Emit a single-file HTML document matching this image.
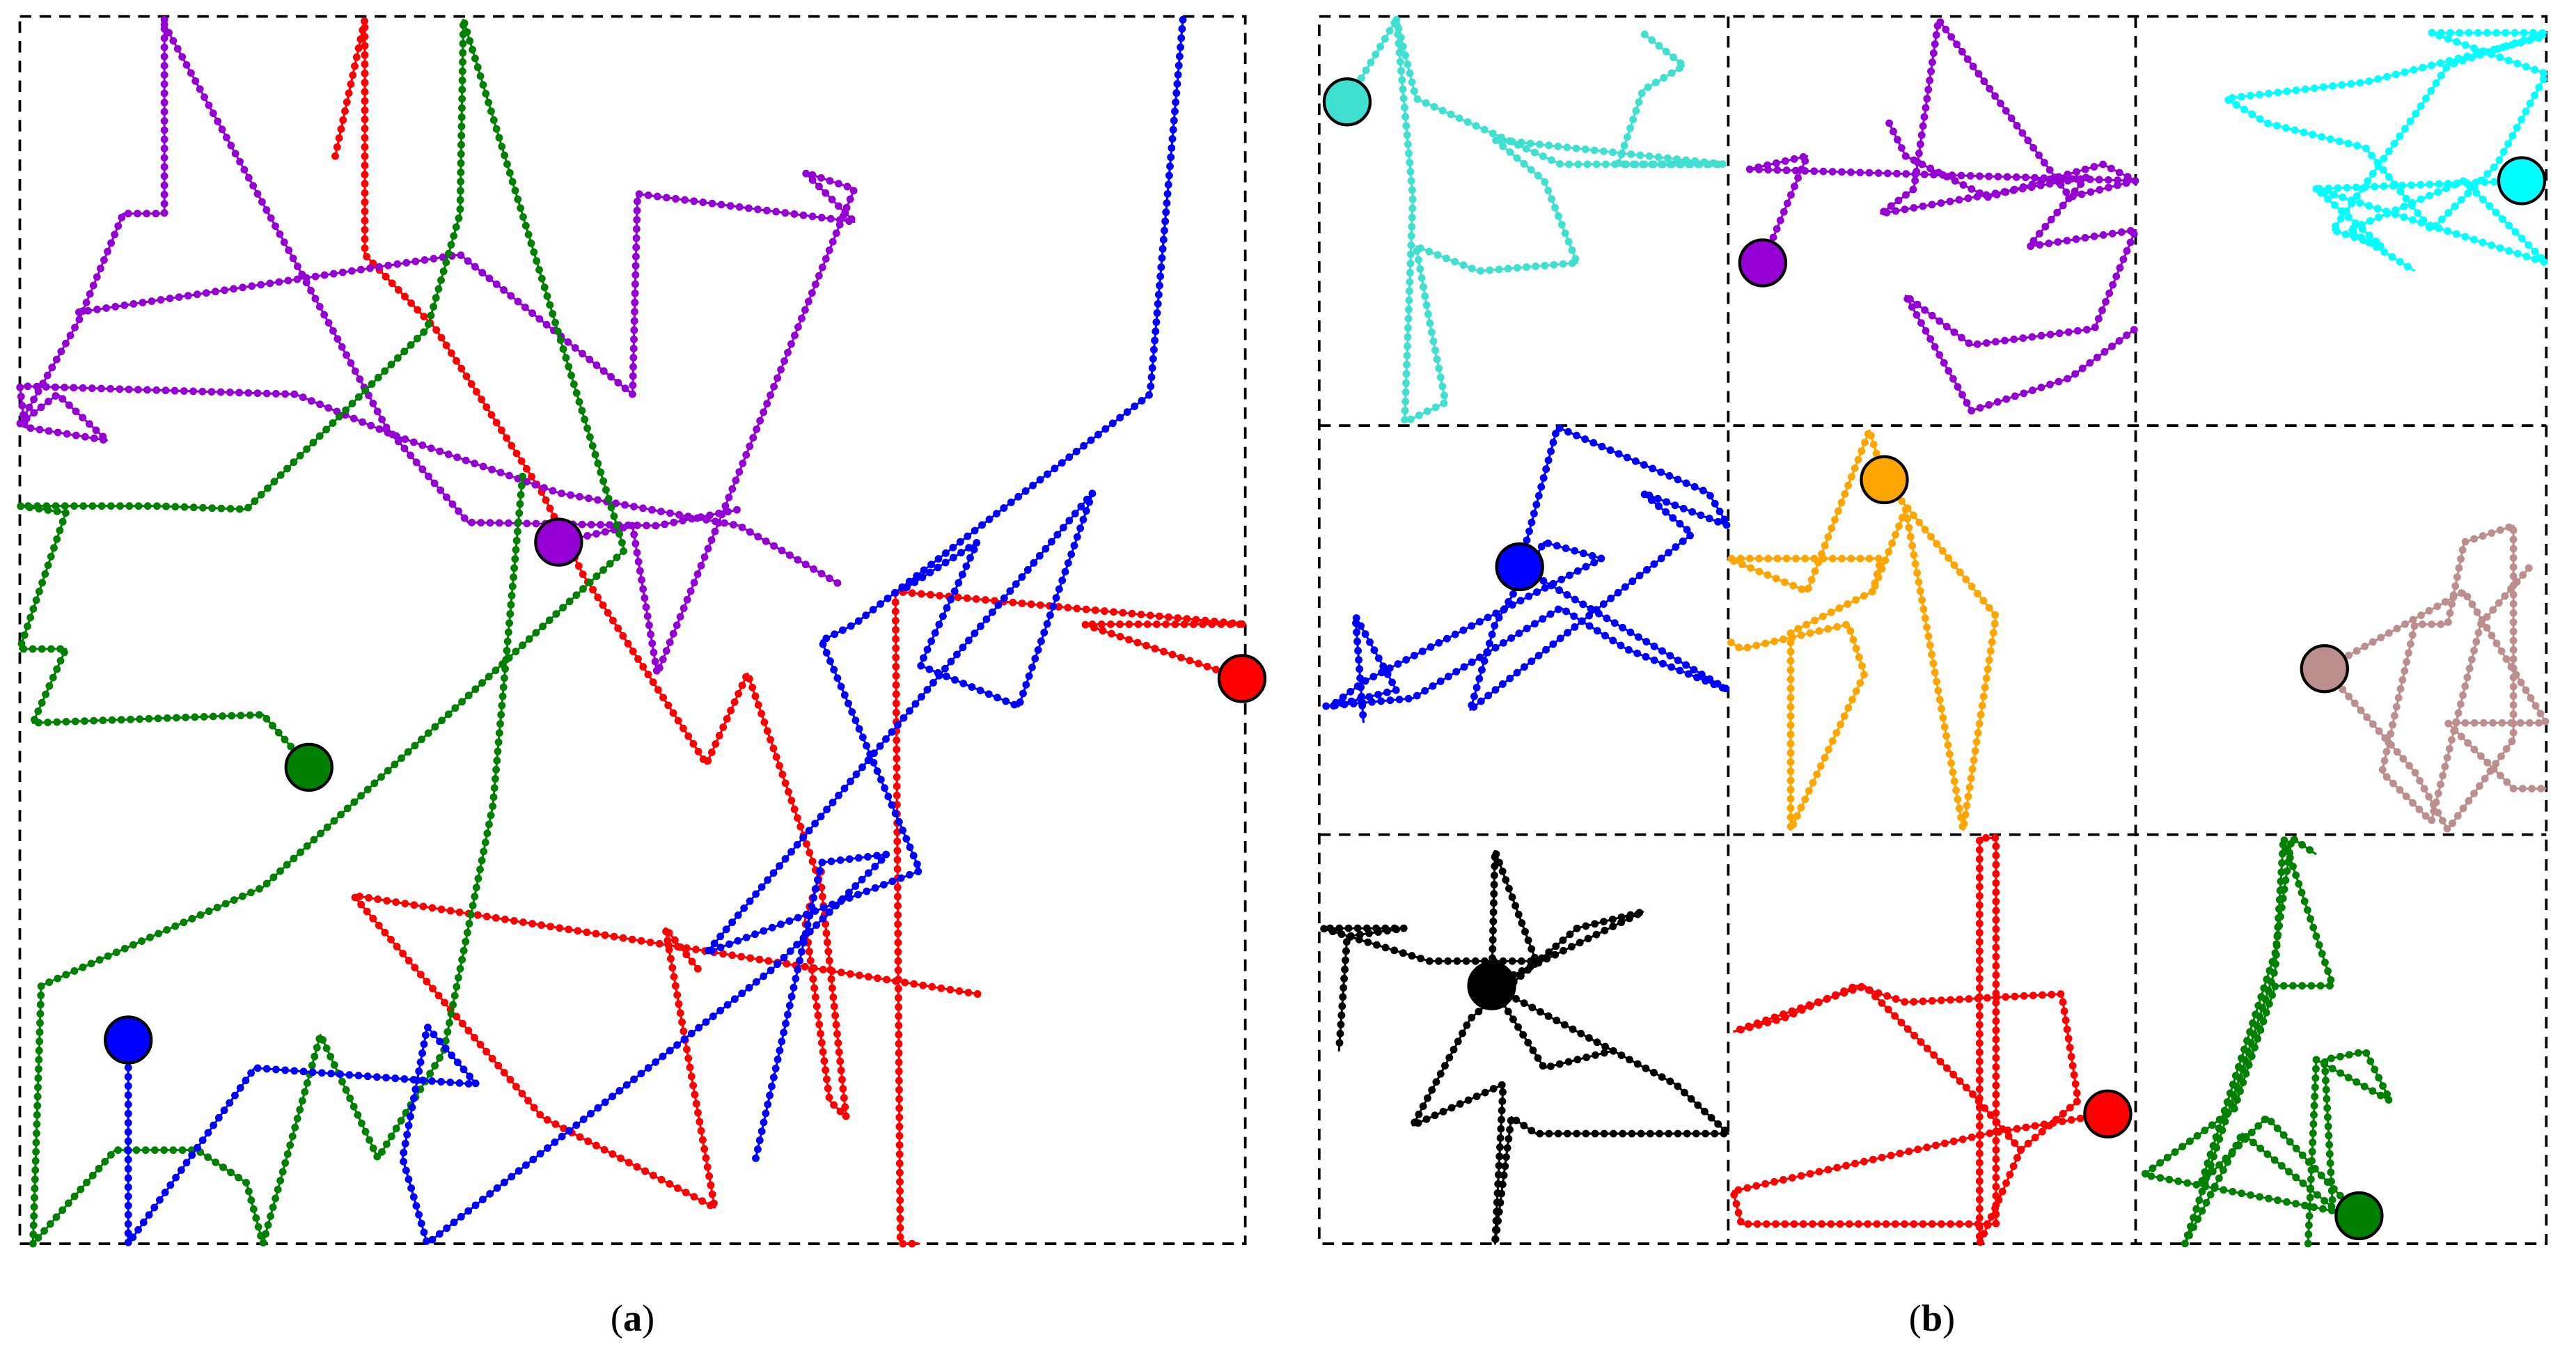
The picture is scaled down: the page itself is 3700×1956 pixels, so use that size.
<!DOCTYPE html>
<html><head><meta charset="utf-8"><style>
html,body{margin:0;padding:0;background:#fff}
svg{display:block}
.t{fill:none;stroke-width:1.3;stroke-linejoin:round}
.d{fill:none;stroke-width:4.6;stroke-dasharray:0 5.6;stroke-linecap:round;stroke-linejoin:round}
.box{fill:none;stroke:#000;stroke-width:1.6;stroke-dasharray:7 5}
.m{stroke:#000;stroke-width:1.8}
text{font-family:"Liberation Serif",serif;font-size:23px}
</style></head><body>
<svg width="3700" height="1956" viewBox="0 0 1568 829" xmlns="http://www.w3.org/2000/svg">
<defs>
<!-- panel a -->
<polyline id="r1" points="204,95 222,12 222,155 265,200 330,300 355,350 430,465 455,410 500,540 515,680 505,670 490,560 500,530"/>
<polyline id="r2" points="595,605 215,545 330,680 435,735 405,565 425,590"/>
<polyline id="r3" points="756,413 660,380 758,380 545,360 548,757 560,757"/>
<polyline id="p1" points="100,12 100,130 75,130 48,195 12,258 35,240 65,268 15,260 12,235 180,240 240,265 340,300 450,320 510,355"/>
<polyline id="p2" points="100,15 235,260 285,318 400,320 450,310"/>
<polyline id="p3" points="48,190 280,155 385,240 388,118 520,135 490,105 520,115 400,410 385,320 340,330"/>
<polyline id="g1" points="188,467 160,435 20,440 40,395 12,395 40,312 12,308 95,308 150,310 260,200 280,130 282,12 380,335 160,540 25,600 20,757"/>
<polyline id="g2" points="318,290 300,490 270,640 230,705 195,630 160,757 150,720 120,700 70,700 20,757"/>
<polyline id="b1" points="720,12 700,240 520,380 500,390 560,530 430,580 665,300 620,430 560,405 595,330 548,360"/>
<polyline id="b2" points="78,633 78,757 155,650 290,660 260,625 245,705 260,757 470,590 540,520 500,525 460,705"/>
<!-- panel b -->
<polyline id="c1" points="820,62 850,12 860,120 855,257 880,245 870,195 862,150 900,165 960,160 940,110 910,85 1050,100 985,100 1000,55 1025,40 1000,20"/>
<polyline id="c2" points="850,12 862,60 950,100 1050,100"/>
<polyline id="v1" points="1073,160 1100,95 1065,103 1300,110 1260,120 1180,12 1165,115 1145,130 1270,108 1235,150 1300,140 1275,200 1200,210 1160,180 1200,250 1260,230 1300,200"/>
<polyline id="v2" points="1150,75 1160,95 1210,120 1280,100 1300,110"/>
<polyline id="y1" points="1535,110 1410,115 1450,150 1420,140 1470,70 1490,40 1550,20 1480,20 1550,45 1520,100 1480,140 1440,90 1380,75 1355,60 1440,50 1550,22"/>
<polyline id="y2" points="1410,115 1550,160 1500,110 1430,140 1470,165"/>
<polyline id="bl1" points="925,345 948,260 1040,300 1052,320 1000,300 1030,325 895,432 910,380 940,330 975,340 830,415 810,430 850,420 825,375 830,440"/>
<polyline id="bl2" points="925,345 1052,420 990,395 950,370 860,425 805,430"/>
<polyline id="o1" points="1147,292 1138,262 1100,360 1052,340 1145,340 1140,360 1090,385 1090,505 1135,410 1125,380 1060,395 1052,390"/>
<polyline id="o2" points="1147,292 1215,375 1195,505 1160,310 1140,360"/>
<polyline id="k1" points="1415,407 1470,470 1490,505 1530,450 1530,320 1500,330 1490,380 1470,380 1450,470 1480,500 1510,380 1540,345"/>
<polyline id="k2" points="1415,407 1500,360 1550,440 1490,440 1530,480 1550,480"/>
<polyline id="bk1" points="908,600 910,518 935,585 870,585 805,565 855,565 820,570 815,640"/>
<polyline id="bk2" points="908,600 1020,660 1052,690 935,690 920,680 910,757 915,660 860,685 895,620 960,565 1000,555 908,600 940,650 980,640"/>
<polyline id="rr1" points="1283,678 1210,690 1055,725 1060,745 1215,745 1215,510 1205,510 1205,757 1230,700 1265,670 1255,605 1160,610 1130,600 1085,620 1055,628"/>
<polyline id="rr2" points="1230,700 1200,665 1135,600 1055,628"/>
<polyline id="gg1" points="1436,740 1305,715 1360,675 1385,600 1420,600 1390,510 1385,590 1330,757 1365,690 1420,735 1415,645 1440,640 1455,670 1410,645 1405,757"/>
<polyline id="gg2" points="1436,740 1380,680 1340,720 1385,580 1395,510 1410,520"/>
</defs>

<rect class="box" x="12" y="10" width="746" height="747"/>
<rect class="box" x="803" y="10" width="747" height="747"/>
<line class="box" x1="1052" y1="10" x2="1052" y2="757"/>
<line class="box" x1="1300" y1="10" x2="1300" y2="757"/>
<line class="box" x1="803" y1="259" x2="1550" y2="259"/>
<line class="box" x1="803" y1="508" x2="1550" y2="508"/>

<g stroke="#ff0000"><use href="#r1" class="t"/><use href="#r1" class="d"/><use href="#r2" class="t"/><use href="#r2" class="d"/><use href="#r3" class="t"/><use href="#r3" class="d"/>
<use href="#rr1" class="t"/><use href="#rr1" class="d"/><use href="#rr2" class="t"/><use href="#rr2" class="d"/></g>
<g stroke="#9400d3"><use href="#p1" class="t"/><use href="#p1" class="d"/><use href="#p2" class="t"/><use href="#p2" class="d"/><use href="#p3" class="t"/><use href="#p3" class="d"/>
<use href="#v1" class="t"/><use href="#v1" class="d"/><use href="#v2" class="t"/><use href="#v2" class="d"/></g>
<g stroke="#008000"><use href="#g1" class="t"/><use href="#g1" class="d"/><use href="#g2" class="t"/><use href="#g2" class="d"/>
<use href="#gg1" class="t"/><use href="#gg1" class="d"/><use href="#gg2" class="t"/><use href="#gg2" class="d"/></g>
<g stroke="#0000ff"><use href="#b1" class="t"/><use href="#b1" class="d"/><use href="#b2" class="t"/><use href="#b2" class="d"/>
<use href="#bl1" class="t"/><use href="#bl1" class="d"/><use href="#bl2" class="t"/><use href="#bl2" class="d"/></g>
<g stroke="#40e0d0"><use href="#c1" class="t"/><use href="#c1" class="d"/><use href="#c2" class="t"/><use href="#c2" class="d"/></g>
<g stroke="#00ffff"><use href="#y1" class="t"/><use href="#y1" class="d"/><use href="#y2" class="t"/><use href="#y2" class="d"/></g>
<g stroke="#ffa500"><use href="#o1" class="t"/><use href="#o1" class="d"/><use href="#o2" class="t"/><use href="#o2" class="d"/></g>
<g stroke="#bc8f8f"><use href="#k1" class="t"/><use href="#k1" class="d"/><use href="#k2" class="t"/><use href="#k2" class="d"/></g>
<g stroke="#000000"><use href="#bk1" class="t"/><use href="#bk1" class="d"/><use href="#bk2" class="t"/><use href="#bk2" class="d"/></g>

<circle class="m" cx="340" cy="330" r="14" fill="#9400d3"/>
<circle class="m" cx="756" cy="413" r="14" fill="#ff0000"/>
<circle class="m" cx="188" cy="467" r="14" fill="#008000"/>
<circle class="m" cx="78" cy="633" r="14" fill="#0000ff"/>
<circle class="m" cx="820" cy="62" r="14" fill="#40e0d0"/>
<circle class="m" cx="1073" cy="160" r="14" fill="#9400d3"/>
<circle class="m" cx="1535" cy="110" r="14" fill="#00ffff"/>
<circle class="m" cx="925" cy="345" r="14" fill="#0000ff"/>
<circle class="m" cx="1147" cy="292" r="14" fill="#ffa500"/>
<circle class="m" cx="1415" cy="407" r="14" fill="#bc8f8f"/>
<circle class="m" cx="908" cy="600" r="14" fill="#000000"/>
<circle class="m" cx="1283" cy="678" r="14" fill="#ff0000"/>
<circle class="m" cx="1436" cy="740" r="14" fill="#008000"/>

<text x="385" y="810" text-anchor="middle">(<tspan font-weight="bold">a</tspan>)</text>
<text x="1176" y="810" text-anchor="middle">(<tspan font-weight="bold">b</tspan>)</text>
</svg>
</body></html>
